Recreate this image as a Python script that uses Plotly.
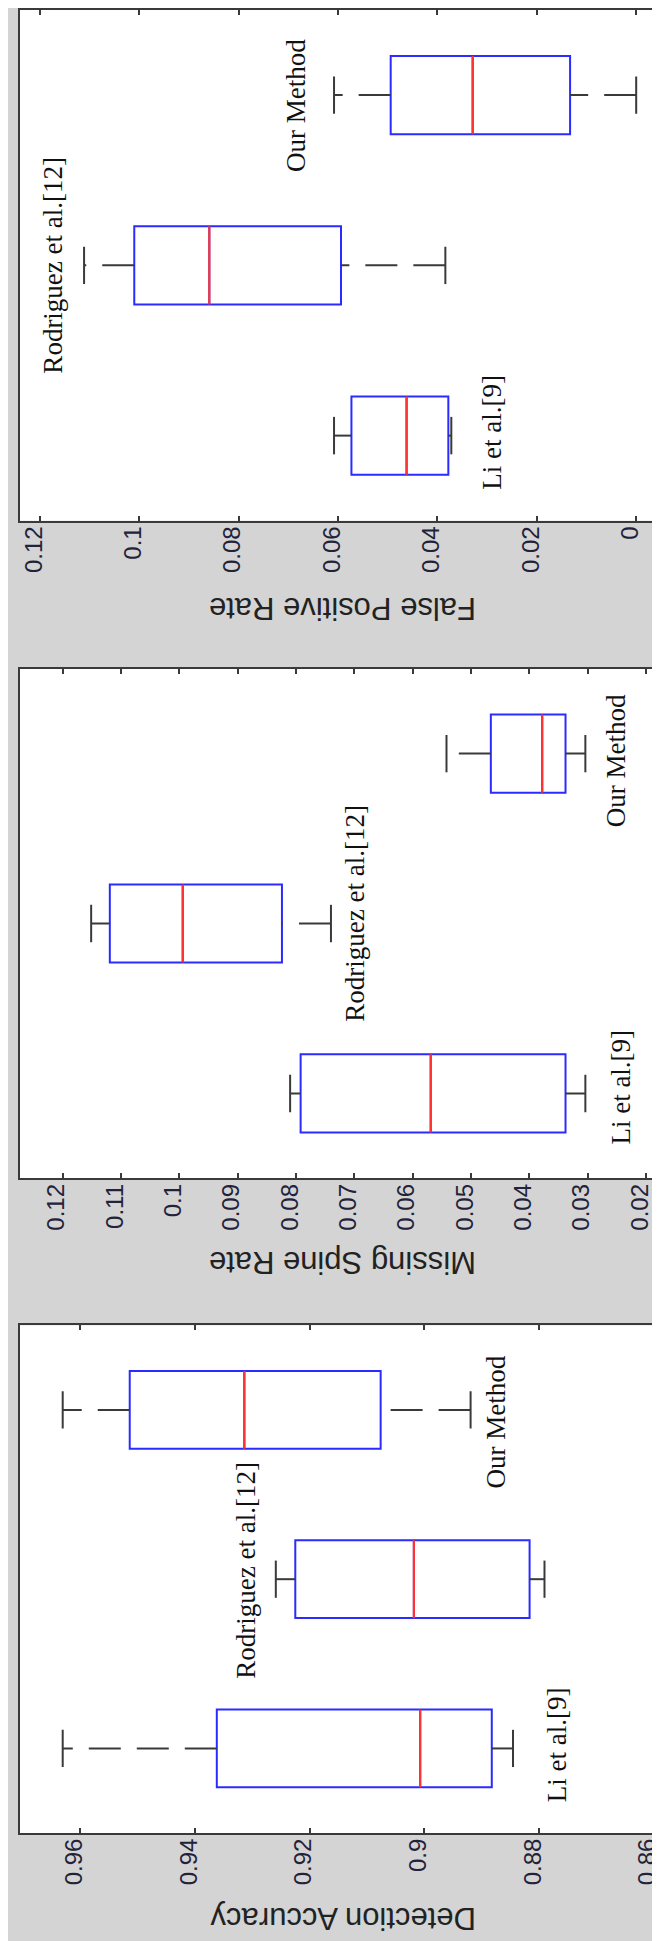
import plotly.graph_objects as go

# ---------------- data ----------------
categories = ["Li et al.[9]", "Rodriguez et al.[12]", "Our Method"]
cat_pos = [1, 2, 3]

# False Positive Rate
fpr_lower = [0.0372, 0.0384, 0.0000]
fpr_q1 = [0.0378, 0.0594, 0.0133]
fpr_median = [0.0462, 0.0859, 0.0329]
fpr_q3 = [0.0573, 0.1010, 0.0494]
fpr_upper = [0.0608, 0.1111, 0.0608]
fpr_ticks = [0, 0.02, 0.04, 0.06, 0.08, 0.10, 0.12]
fpr_ticklabels = ["0", "0.02", "0.04", "0.06", "0.08", "0.1", "0.12"]

# Missing Spine Rate
msr_lower = [0.0304, 0.0740, 0.0304]
msr_q1 = [0.0338, 0.0824, 0.0338]
msr_median = [0.0569, 0.0994, 0.0378]
msr_q3 = [0.0792, 0.1119, 0.0466]
msr_upper = [0.0810, 0.1151, 0.0542]
msr_ticks = [0.02, 0.03, 0.04, 0.05, 0.06, 0.07, 0.08, 0.09, 0.10, 0.11, 0.12]
msr_ticklabels = ["0.02", "0.03", "0.04", "0.05", "0.06", "0.07", "0.08", "0.09", "0.1", "0.11", "0.12"]

# Detection Accuracy
da_lower = [0.8845, 0.8790, 0.8919]
da_q1 = [0.8882, 0.8816, 0.9076]
da_median = [0.9007, 0.9018, 0.9314]
da_q3 = [0.9362, 0.9225, 0.9514]
da_upper = [0.9631, 0.9259, 0.9631]
da_ticks = [0.86, 0.88, 0.90, 0.92, 0.94, 0.96]
da_ticklabels = ["0.86", "0.88", "0.9", "0.92", "0.94", "0.96"]

# ---------------- layout / style ----------------
W, H = 660, 1941
BG = "#d4d4d4"
AX = "#3a3a3a"
BLUE = "#2b2bff"
RED = "#ff3333"
WHISK = "#3a3a3a"
BOX_W = 0.46
CAP_HALF = 0.11

panels = [
    dict(title="False Positive Rate", lower=fpr_lower, q1=fpr_q1, med=fpr_median, q3=fpr_q3, upper=fpr_upper,
         ticks=fpr_ticks, ticktext=fpr_ticklabels, xrange=[0.1240, -0.0060], top=1, bottom=512, title_y=600,
         label_pos=[(0.0289, 1.02), (0.1173, 2.00), (0.0683, 2.94)]),
    dict(title="Missing Spine Rate", lower=msr_lower, q1=msr_q1, med=msr_median, q3=msr_q3, upper=msr_upper,
         ticks=msr_ticks, ticktext=msr_ticklabels, xrange=[0.12730, 0.01658], top=660, bottom=1170, title_y=1254,
         label_pos=[(0.0243, 1.04), (0.0698, 2.06), (0.0250, 2.96)]),
    dict(title="Detection Accuracy", lower=da_lower, q1=da_q1, med=da_median, q3=da_q3, upper=da_upper,
         ticks=da_ticks, ticktext=da_ticklabels, xrange=[0.97056, 0.85779], top=1317, bottom=1825, title_y=1911,
         label_pos=[(0.8768, 1.02), (0.9311, 2.05), (0.8875, 2.93)]),
]

fig = go.Figure()
annotations = []
x_dom = [12 / W, 1.0]

for i, p in enumerate(panels):
    k = "" if i == 0 else str(i + 1)
    xa, ya = "x" + k, "y" + k
    # boxes
    fig.add_trace(go.Box(
        y=cat_pos, q1=p["q1"], median=p["med"], q3=p["q3"],
        lowerfence=p["q1"], upperfence=p["q3"], orientation="h",
        width=BOX_W, whiskerwidth=0, boxpoints=False,
        line=dict(color=BLUE, width=2), fillcolor="white",
        xaxis=xa, yaxis=ya, showlegend=False, hoverinfo="skip"))
    for j, c in enumerate(cat_pos):
        # median (red)
        fig.add_trace(go.Scatter(
            x=[p["med"][j], p["med"][j]], y=[c - BOX_W / 2, c + BOX_W / 2], mode="lines",
            line=dict(color=RED, width=2.2), xaxis=xa, yaxis=ya, showlegend=False, hoverinfo="skip"))
        # whiskers drawn from lower value toward higher value (dashed)
        for a, b in ((p["lower"][j], p["q1"][j]), (p["q3"][j], p["upper"][j])):
            if b - a > 0:
                fig.add_trace(go.Scatter(
                    x=[a, b], y=[c, c], mode="lines",
                    line=dict(color=WHISK, width=2, dash="32px,16px"),
                    xaxis=xa, yaxis=ya, showlegend=False, hoverinfo="skip"))
        # caps
        for v in (p["lower"][j], p["upper"][j]):
            fig.add_trace(go.Scatter(
                x=[v, v], y=[c - CAP_HALF, c + CAP_HALF], mode="lines",
                line=dict(color=WHISK, width=2), xaxis=xa, yaxis=ya,
                showlegend=False, hoverinfo="skip"))
        # category labels
        lx, ly = p["label_pos"][j]
        annotations.append(dict(
            x=lx, y=ly, xref=xa, yref=ya, text=categories[j], showarrow=False,
            textangle=-90, xanchor="center", yanchor="middle",
            font=dict(family="Liberation Serif", size=27, color="#111111")))

    y_dom = [1 - p["bottom"] / H, 1 - p["top"] / H]
    fig.update_layout(**{
        "xaxis" + k: dict(domain=x_dom, anchor=ya, range=p["xrange"], tickvals=p["ticks"],
                          ticktext=p["ticktext"], tickangle=-90, ticks="inside", ticklen=5,
                          tickwidth=1.5, tickcolor=AX, showline=True, linecolor=AX, linewidth=2,
                          mirror="ticks", showgrid=False, zeroline=False,
                          ticklabelstandoff=-6, ticklabeloverflow="allow", ticklabelshift=6,
                          tickfont=dict(family="Liberation Sans", size=24, color="#22223a")),
        "yaxis" + k: dict(domain=y_dom, anchor=xa, range=[0.5, 3.5], showticklabels=False,
                          ticks="", showline=True, linecolor=AX, linewidth=2, mirror=True,
                          showgrid=False, zeroline=False),
    })
    annotations.append(dict(
        x=(x_dom[0] + 659 / W) / 2, y=1 - p["title_y"] / H, xref="paper", yref="paper",
        text=p["title"], showarrow=False, textangle=180, xanchor="center", yanchor="middle",
        font=dict(family="Liberation Sans", size=31, color="#222222")))

fig.update_layout(
    width=W, height=H, margin=dict(l=0, r=0, t=0, b=0),
    paper_bgcolor=BG, plot_bgcolor="white", annotations=annotations,
    shapes=[dict(type="rect", xref="paper", yref="paper", x0=0, x1=1, y0=0, y1=2 / H,
                 fillcolor="#a9c2e6", line=dict(width=0))],
)

fig.write_html("out.html")
